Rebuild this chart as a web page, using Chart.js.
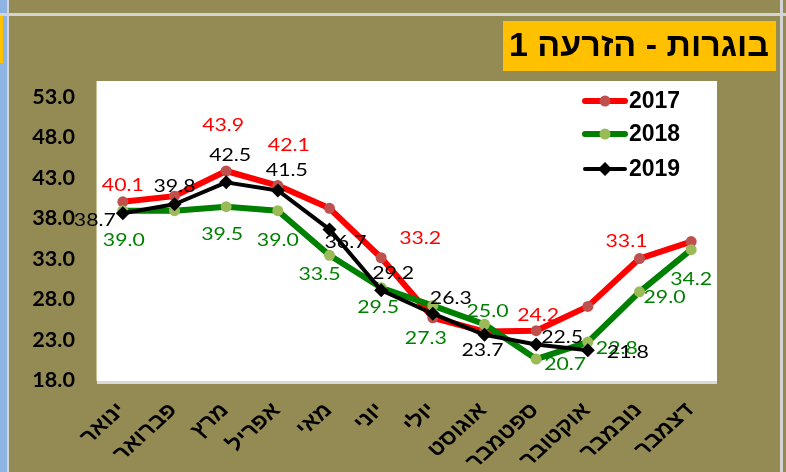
<!DOCTYPE html>
<html>
<head>
<meta charset="utf-8">
<script src="https://cdn.jsdelivr.net/npm/chart.js@4.4.1/dist/chart.umd.min.js"></script>
<style>
    html, body { margin: 0; padding: 0; background: #948A54; }
    canvas { display: block; }
</style>
</head>
<body>
<canvas id="chart" width="786" height="472"></canvas>
<script>
// chart data
const months = ['ינואר', 'פברואר', 'מרץ', 'אפריל', 'מאי', 'יוני', 'יולי', 'אוגוסט', 'ספטמבר', 'אוקטובר', 'נובמבר', 'דצמבר'];
const years = ['2017', '2018', '2019'];
const values2017 = [40.1, 40.8, 43.9, 42.1, 39.3, 33.2, 25.8, 24.1, 24.2, 27.2, 33.1, 35.2];
const values2018 = [39.0, 39.0, 39.5, 39.0, 33.5, 29.5, 27.3, 25.0, 20.7, 22.8, 29.0, 34.2];
const values2019 = [38.7, 39.8, 42.5, 41.5, 36.7, 29.2, 26.3, 23.7, 22.5, 21.8, null, null];
const yTicks = [18, 23, 28, 33, 38, 43, 48, 53];
const titleText = 'בוגרות - הזרעה 1';

// where each value label sits relative to its marker (px), null = no label
const offsets2017 = [[0, -16], null, [-3, -45], [11, -40], null, [39, -19], null, null, [2, -15], null, [-13, -17], null];
const offsets2018 = [[1, 30], null, [-4, 28], [0, 30], [-10, 19], [-3, 20], [-7, 33], [3, -13], [29, 5], [29, 6], [25, 6], [0, 30]];
const offsets2019 = [[-28, 7], [0, -18], [4, -27], [9, -20], [16, 13], [12, -17], [18, -15], [-2, 16], [26, -7], [40, 2], null, null];

const seriesStyle = [
    { line: '#FF0000', point: '#C0504D', text: '#FF0000', width: 6, style: 'circle', radius: 5.5, offsets: offsets2017 },
    { line: '#008000', point: '#9BBB59', text: '#008000', width: 6, style: 'circle', radius: 5.5, offsets: offsets2018 },
    { line: '#000000', point: '#000000', text: '#000000', width: 4, style: 'rectRot', radius: 7, offsets: offsets2019 }
];

// Excel text looks stretched sideways, keep that feel
function stretchedText(ctx, text, x, y, sx, angle) {
    ctx.save();
    ctx.translate(x, y);
    ctx.scale(sx, 1);
    if (angle) ctx.rotate(angle);
    ctx.fillText(text, 0, 0);
    ctx.restore();
}

function drawMarker(ctx, style, x, y, r, color) {
    ctx.fillStyle = color;
    ctx.beginPath();
    if (style === 'circle') {
        ctx.arc(x, y, r, 0, Math.PI * 2);
    } else {
        ctx.moveTo(x, y - r);
        ctx.lineTo(x + r, y);
        ctx.lineTo(x, y + r);
        ctx.lineTo(x - r, y);
        ctx.closePath();
    }
    ctx.fill();
}

const framePlugin = {
    id: 'frame',
    beforeDraw(chart) {
        const ctx = chart.ctx;
        const area = chart.chartArea;
        ctx.save();
        ctx.fillStyle = '#948A54';
        ctx.fillRect(0, 0, 786, 472);
        // sheet edges around the chart object
        ctx.fillStyle = '#8DB4E2';
        ctx.fillRect(0, 0, 7, 472);
        ctx.fillStyle = '#FFC000';
        ctx.fillRect(0, 16, 3, 47);
        ctx.fillStyle = '#D4D4D4';
        ctx.fillRect(0, 13, 786, 3);
        ctx.fillRect(7, 0, 2, 472);
        ctx.fillRect(780, 0, 3, 472);

        // title box
        ctx.fillStyle = '#FFC000';
        ctx.fillRect(503, 21, 273, 50);
        ctx.fillStyle = '#000';
        ctx.font = 'bold 33px "Liberation Sans", "DejaVu Sans", sans-serif';
        ctx.textAlign = 'center';
        ctx.textBaseline = 'middle';
        ctx.direction = 'rtl';
        stretchedText(ctx, titleText, 639, 47, 1.03, 0);
        ctx.direction = 'ltr';

        // plot area
        ctx.fillStyle = '#D9D9D9';
        ctx.fillRect(area.left, area.bottom, area.width, 3);
        ctx.fillStyle = '#C8BE96';
        ctx.fillRect(area.left - 1, area.top, 1, area.height);
        ctx.fillStyle = '#FFFFFF';
        ctx.fillRect(area.left, area.top, area.width, area.height);
        ctx.restore();
    },
    afterDatasetsDraw(chart) {
        const ctx = chart.ctx;
        const xScale = chart.scales.x;
        const yScale = chart.scales.y;
        ctx.save();

        // value labels
        ctx.font = '17px Lato, "Open Sans", sans-serif';
        ctx.textAlign = 'center';
        ctx.textBaseline = 'middle';
        seriesStyle.forEach((s, i) => {
            const meta = chart.getDatasetMeta(i);
            const values = chart.data.datasets[i].data;
            ctx.fillStyle = s.text;
            meta.data.forEach((pt, j) => {
                if (values[j] === null || !s.offsets[j]) return;
                stretchedText(ctx, values[j].toFixed(1), pt.x + s.offsets[j][0], pt.y + s.offsets[j][1], 1.25, 0);
            });
        });

        // y tick labels
        ctx.fillStyle = '#000';
        ctx.font = 'bold 20px Lato, "Open Sans", sans-serif';
        ctx.textAlign = 'right';
        yTicks.forEach(v => {
            stretchedText(ctx, v.toFixed(1), 75, yScale.getPixelForValue(v), 1.08, 0);
        });

        // month labels, rotated; the right end sits under the tick
        ctx.font = 'bold 21px "Liberation Sans", "DejaVu Sans", sans-serif';
        ctx.textAlign = 'right';
        ctx.textBaseline = 'middle';
        months.forEach((m, j) => {
            stretchedText(ctx, m, xScale.getPixelForValue(j) - 1, 407, 1.1, -Math.PI / 4);
        });

        // legend
        ctx.font = 'bold 23px "Liberation Sans", Arial, sans-serif';
        ctx.textAlign = 'left';
        const legendY = [101, 134, 169];
        seriesStyle.forEach((s, i) => {
            const y = legendY[i];
            ctx.strokeStyle = s.line;
            ctx.lineWidth = s.width;
            ctx.lineCap = 'round';
            ctx.beginPath();
            ctx.moveTo(585, y);
            ctx.lineTo(625, y);
            ctx.stroke();
            drawMarker(ctx, s.style, 605, y, s.radius, s.point);
            ctx.fillStyle = '#000';
            ctx.fillText(years[i], 629, y + 1);
        });
        ctx.restore();
    }
};

const allValues = [values2017, values2018, values2019];

new Chart(document.getElementById('chart'), {
    type: 'line',
    data: {
        labels: months,
        datasets: years.map((year, i) => ({
            label: year,
            data: allValues[i],
            borderColor: seriesStyle[i].line,
            borderWidth: seriesStyle[i].width,
            borderJoinStyle: 'round',
            borderCapStyle: 'round',
            backgroundColor: seriesStyle[i].point,
            pointBackgroundColor: seriesStyle[i].point,
            pointBorderColor: seriesStyle[i].point,
            pointBorderWidth: 0,
            pointStyle: seriesStyle[i].style,
            pointRadius: seriesStyle[i].radius,
            tension: 0,
            fill: false,
            order: 2 - i
        }))
    },
    options: {
        responsive: false,
        animation: false,
        devicePixelRatio: 1,
        layout: { padding: { left: 97, top: 81, right: 69, bottom: 91 } },
        plugins: { legend: { display: false }, tooltip: { enabled: false } },
        scales: {
            x: { display: false, offset: true },
            y: { display: false, min: 18, max: 55 }
        }
    },
    plugins: [framePlugin]
});
</script>
</body>
</html>
